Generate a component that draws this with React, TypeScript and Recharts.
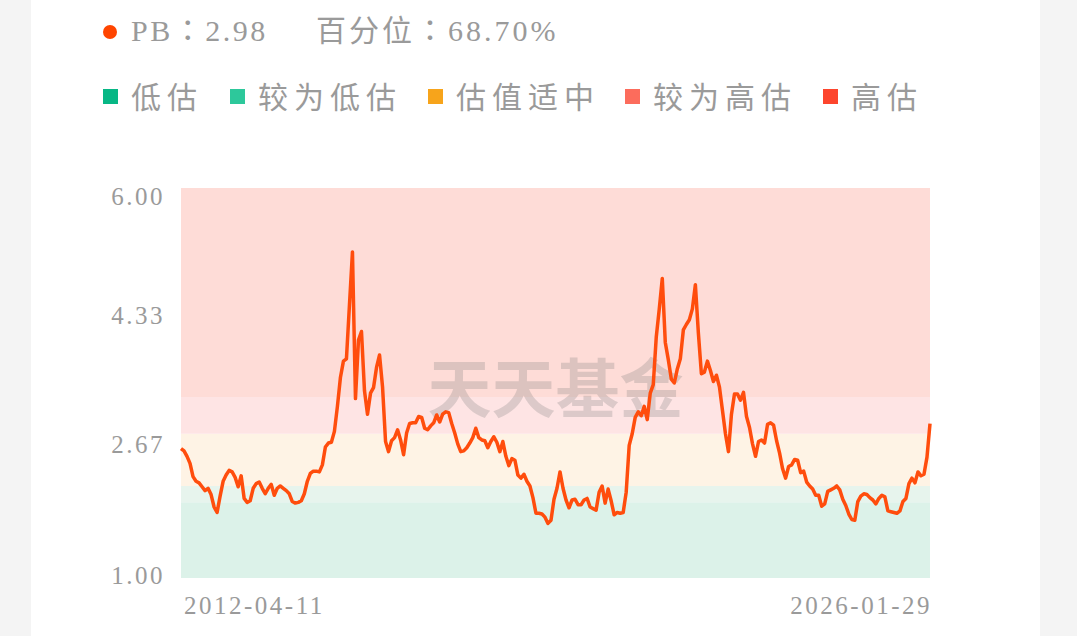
import { LineChart, Line, XAxis, YAxis, ReferenceArea } from "recharts";

const startLabel = "2012-04-11";
const endLabel = "2026-01-29";
const currentPb = "2.98";
const currentPct = "68.70%";

const yTicks = [1, 2.6667, 4.3333, 6];

const bandNames = ["低估", "较为低估", "估值适中", "较为高估", "高估"];
const bandColors = ["#07b785", "#2dc89b", "#f7a41b", "#fc6c5c", "#fd452d"];
const bandFills = ["#dcf2e9", "#e7f4ed", "#fef3e5", "#fee4e4", "#fedcd7"];
const bandEdges = [1, 1.97, 2.18, 2.85, 3.32, 6];

// PB history, oldest first
const pb2012_2014 = [
  2.66, 2.63, 2.56, 2.47, 2.3, 2.24, 2.22, 2.17, 2.12, 2.15,
  2.07, 1.91, 1.84, 2.05, 2.24, 2.32, 2.38, 2.36, 2.29, 2.17,
  2.31, 2.02, 1.97, 1.99, 2.15, 2.21, 2.23, 2.15, 2.08, 2.15,
  2.2, 2.06, 2.15, 2.18, 2.15, 2.12, 2.08, 1.98, 1.96, 1.97,
  1.99, 2.08, 2.24, 2.34, 2.37, 2.37, 2.36, 2.45, 2.68, 2.73,
];
const pb2015_2017 = [
  2.74, 2.88, 3.2, 3.57, 3.78, 3.81, 4.5, 5.18, 3.3, 4.05,
  4.16, 3.4, 3.1, 3.37, 3.44, 3.7, 3.86, 3.45, 2.75, 2.62,
  2.76, 2.8, 2.9, 2.77, 2.58, 2.86, 2.98, 2.99, 2.99, 3.07,
  3.06, 2.92, 2.9, 2.95, 2.99, 3.09, 3.0, 3.1, 3.13, 3.12,
  2.98, 2.86, 2.72, 2.62, 2.63, 2.67, 2.73, 2.8, 2.92, 2.8,
];
const pb2017_2020 = [
  2.77, 2.76, 2.67, 2.75, 2.81, 2.74, 2.62, 2.75, 2.56, 2.44,
  2.53, 2.51, 2.32, 2.28, 2.33, 2.24, 2.18, 2.03, 1.83, 1.83,
  1.82, 1.78, 1.7, 1.74, 2.01, 2.15, 2.36, 2.15, 2.0, 1.9,
  2.0, 2.01, 1.94, 1.94, 2.0, 2.02, 1.91, 1.89, 1.87, 2.1,
  2.18, 1.96, 2.14, 1.99, 1.81, 1.84, 1.83, 1.84, 2.1, 2.7,
];
const pb2020_2023 = [
  2.85, 3.06, 3.13, 3.08, 3.2, 3.03, 3.37, 3.48, 4.09, 4.45,
  4.84, 4.02, 3.8, 3.55, 3.5, 3.68, 3.81, 4.18, 4.25, 4.31,
  4.45, 4.76, 4.14, 3.62, 3.64, 3.78, 3.66, 3.52, 3.6, 3.45,
  3.15, 2.85, 2.62, 3.1, 3.36, 3.36, 3.28, 3.38, 3.07, 2.93,
  2.72, 2.56, 2.75, 2.77, 2.73, 2.97, 2.99, 2.96, 2.76, 2.6,
];
const pb2023_2026 = [
  2.4, 2.28, 2.43, 2.45, 2.52, 2.51, 2.35, 2.37, 2.23, 2.18,
  2.14, 2.06, 2.06, 1.92, 1.95, 2.11, 2.13, 2.15, 2.18, 2.13,
  2.01, 1.93, 1.82, 1.75, 1.74, 1.98, 2.05, 2.08, 2.07, 2.03,
  2.0, 1.95, 2.02, 2.06, 2.04, 1.86, 1.85, 1.84, 1.83, 1.86,
  1.98, 2.02, 2.21, 2.28, 2.22, 2.36, 2.31, 2.33, 2.55, 2.98,
];

const pbSeries = [
  ...pb2012_2014,
  ...pb2015_2017,
  ...pb2017_2020,
  ...pb2020_2023,
  ...pb2023_2026,
];
const data = pbSeries.map((v, i) => ({ i, v }));
const lastIndex = data.length - 1;

const grey = "#9a9a9a";
const serif = "'Liberation Serif', 'Noto Sans CJK SC', serif";
const colonFont = "'Noto Sans CJK TC', sans-serif";
const legendLeft = [103, 230, 428, 625, 823];

function YTick(props: any) {
  const { x, y, payload } = props;
  const top = payload.value === 6;
  return (
    <text
      x={x}
      y={top ? y + 8 : y - 3}
      textAnchor="end"
      dominantBaseline="central"
      fill={grey}
      fontSize={25}
      fontFamily={serif}
      letterSpacing={2.5}
    >
      {payload.value.toFixed(2)}
    </text>
  );
}

function XTick(props: any) {
  const { x, y, payload } = props;
  const first = payload.value === 0;
  return (
    <text
      x={first ? x + 3 : x + 2}
      y={y + 19}
      textAnchor={first ? "start" : "end"}
      dominantBaseline="central"
      fill={grey}
      fontSize={25}
      fontFamily={serif}
      letterSpacing={2.5}
    >
      {first ? startLabel : endLabel}
    </text>
  );
}

function Watermark(props: any) {
  const { viewBox } = props;
  return (
    <text
      x={viewBox.x + viewBox.width / 2}
      y={viewBox.y + viewBox.height / 2 + 1}
      textAnchor="middle"
      dominantBaseline="central"
      fill="#7a7a7a"
      fillOpacity={0.26}
      fontSize={64}
      fontWeight={700}
      fontFamily="'Noto Sans CJK SC', sans-serif"
    >
      天天基金
    </text>
  );
}

export default function App() {
  return (
    <div
      style={{
        position: "absolute",
        left: 0,
        top: 0,
        width: 1077,
        height: 636,
        background: "#f4f4f4",
        overflow: "hidden",
        fontFamily: serif,
      }}
    >
      <div
        style={{
          position: "absolute",
          left: 31,
          top: 0,
          width: 1009,
          height: 636,
          background: "#fff",
        }}
      />
      <div
        style={{
          position: "absolute",
          left: 103,
          top: 25,
          width: 14,
          height: 14,
          borderRadius: "50%",
          background: "#ff4500",
        }}
      />
      <div
        style={{
          position: "absolute",
          left: 131,
          top: 8,
          lineHeight: "40px",
          fontSize: 30,
          color: grey,
          letterSpacing: 2.5,
          whiteSpace: "nowrap",
        }}
      >
        PB<span style={{ fontFamily: colonFont }}>：</span>
        {currentPb}
      </div>
      <div
        style={{
          position: "absolute",
          left: 316,
          top: 8,
          lineHeight: "40px",
          fontSize: 30,
          color: grey,
          letterSpacing: 3,
          whiteSpace: "nowrap",
        }}
      >
        百分位<span style={{ fontFamily: colonFont }}>：</span>
        {currentPct}
      </div>
      {bandNames.map((name, k) => (
        <div key={name}>
          <div
            style={{
              position: "absolute",
              left: legendLeft[k],
              top: 89,
              width: 15,
              height: 15,
              background: bandColors[k],
            }}
          />
          <div
            style={{
              position: "absolute",
              left: legendLeft[k] + 28,
              top: 75,
              lineHeight: "40px",
              fontSize: 30,
              color: grey,
              letterSpacing: 6,
              whiteSpace: "nowrap",
              fontFamily: "'Noto Sans CJK SC', sans-serif",
            }}
          >
            {name}
          </div>
        </div>
      ))}
      <div style={{ position: "absolute", left: 0, top: 0 }}>
        <LineChart
          width={1077}
          height={636}
          data={data}
          margin={{ top: 188, right: 147, bottom: 18, left: 101 }}
        >
          <XAxis
            dataKey="i"
            type="number"
            domain={[0, lastIndex]}
            ticks={[0, lastIndex]}
            axisLine={false}
            tickLine={false}
            height={40}
            tick={<XTick />}
            interval={0}
          />
          <YAxis
            type="number"
            domain={[1, 6]}
            ticks={yTicks}
            axisLine={false}
            tickLine={false}
            width={80}
            tickMargin={10}
            tick={<YTick />}
            interval={0}
          />
          {bandFills.map((fill, k) => (
            <ReferenceArea
              key={k}
              x1={0}
              x2={lastIndex}
              y1={bandEdges[k]}
              y2={bandEdges[k + 1]}
              fill={fill}
              fillOpacity={1}
              stroke="none"
            />
          ))}
          <ReferenceArea
            x1={0}
            x2={lastIndex}
            y1={1}
            y2={6}
            fill="none"
            stroke="none"
            label={<Watermark />}
          />
          <Line
            type="linear"
            dataKey="v"
            stroke="#ff4d0d"
            strokeWidth={3.5}
            strokeLinejoin="round"
            dot={false}
            isAnimationActive={false}
          />
        </LineChart>
      </div>
    </div>
  );
}
